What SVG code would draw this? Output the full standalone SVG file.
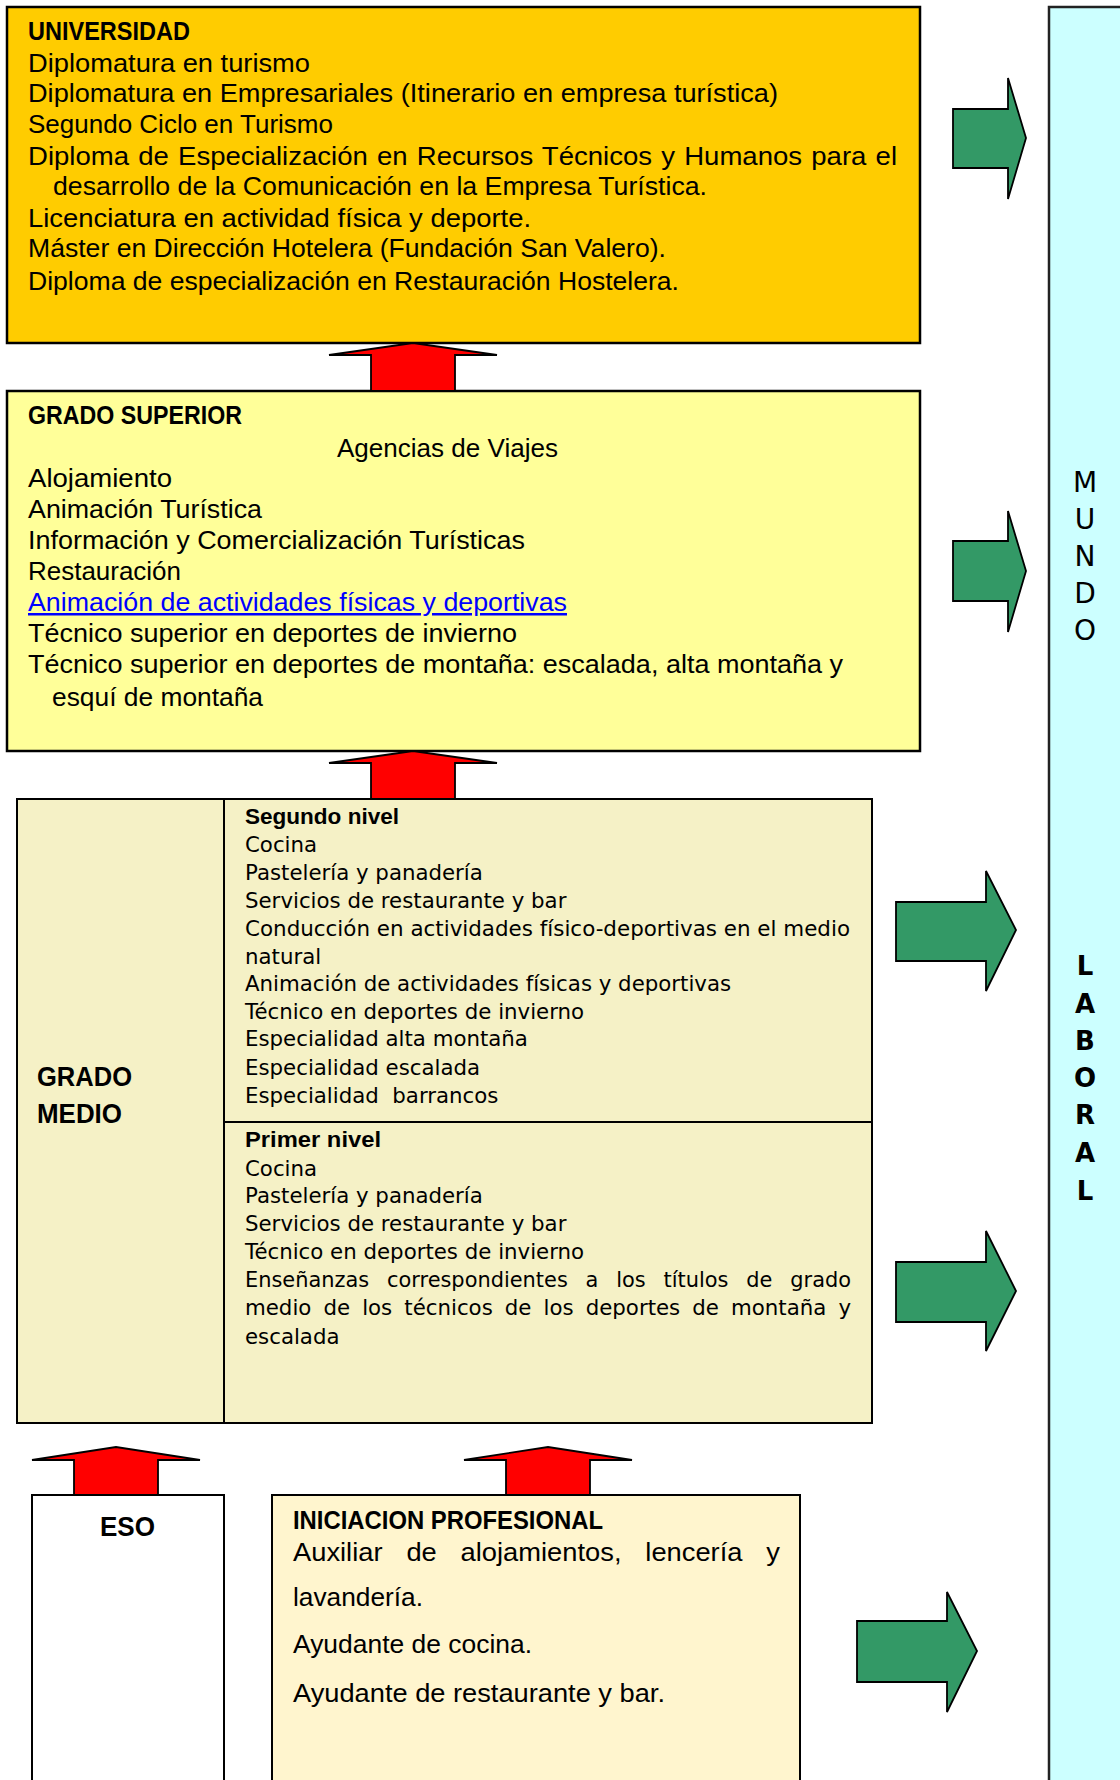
<svg xmlns="http://www.w3.org/2000/svg" width="1120" height="1780" viewBox="0 0 1120 1780">
<style>
.box{stroke:#000;stroke-width:2.5}
.t{font-family:"Liberation Sans",Arial,sans-serif;font-size:25px;fill:#000}
.b{font-weight:bold}
.v{font-family:"DejaVu Sans",Verdana,sans-serif;font-size:21.3px;fill:#000}
.vb{font-family:"Liberation Sans",Arial,sans-serif;font-size:22px;font-weight:bold;fill:#000}
.link{fill:#0000FF;text-decoration:underline}
.red{fill:#FF0000;stroke:#000;stroke-width:1.8;stroke-linejoin:miter}
.green{fill:#339966;stroke:#000;stroke-width:1.8}
.side{font-family:"DejaVu Sans",Verdana,sans-serif;font-size:28px;fill:#000;text-anchor:middle}
.sideb{font-family:"DejaVu Sans",Verdana,sans-serif;font-size:26px;font-weight:bold;fill:#000;text-anchor:middle}
</style>
<rect x="0" y="0" width="1120" height="1780" fill="#FFFFFF"/>

<g id="mundo-laboral">
<rect x="1049" y="7" width="110" height="1800" fill="#CCFFFF" stroke="#222" stroke-width="2.5"/>
<text class="side" x="1085" y="492">M</text>
<text class="side" x="1085" y="529">U</text>
<text class="side" x="1085" y="566">N</text>
<text class="side" x="1085" y="603">D</text>
<text class="side" x="1085" y="640">O</text>
<text class="sideb" x="1085" y="975">L</text>
<text class="sideb" x="1085" y="1013">A</text>
<text class="sideb" x="1085" y="1050">B</text>
<text class="sideb" x="1085" y="1087">O</text>
<text class="sideb" x="1085" y="1124">R</text>
<text class="sideb" x="1085" y="1162">A</text>
<text class="sideb" x="1085" y="1200">L</text>
</g>

<g id="universidad">
<rect class="box" x="7" y="7" width="913" height="336" fill="#FFCC00"/>
<text class="t b" x="28" y="40" textLength="162" lengthAdjust="spacingAndGlyphs">UNIVERSIDAD</text>
<text class="t" x="28" y="72" textLength="282" lengthAdjust="spacingAndGlyphs">Diplomatura en turismo</text>
<text class="t" x="28" y="102" textLength="750" lengthAdjust="spacingAndGlyphs">Diplomatura en Empresariales (Itinerario en empresa turística)</text>
<text class="t" x="28" y="133" textLength="305" lengthAdjust="spacingAndGlyphs">Segundo Ciclo en Turismo</text>
<text class="t" x="28" y="165" word-spacing="1.4" textLength="869" lengthAdjust="spacingAndGlyphs">Diploma de Especialización en Recursos Técnicos y Humanos para el</text>
<text class="t" x="53" y="195" textLength="654" lengthAdjust="spacingAndGlyphs">desarrollo de la Comunicación en la Empresa Turística.</text>
<text class="t" x="28" y="227" textLength="503" lengthAdjust="spacingAndGlyphs">Licenciatura en actividad física y deporte.</text>
<text class="t" x="28" y="257" textLength="638" lengthAdjust="spacingAndGlyphs">Máster en Dirección Hotelera (Fundación San Valero).</text>
<text class="t" x="28" y="290" textLength="651" lengthAdjust="spacingAndGlyphs">Diploma de especialización en Restauración Hostelera.</text>
</g>

<g id="grado-superior">
<rect class="box" x="7" y="391" width="913" height="360" fill="#FFFF99"/>
<text class="t b" x="28" y="424" textLength="214" lengthAdjust="spacingAndGlyphs">GRADO SUPERIOR</text>
<text class="t" x="337" y="457" textLength="221" lengthAdjust="spacingAndGlyphs">Agencias de Viajes</text>
<text class="t" x="28" y="487" textLength="144" lengthAdjust="spacingAndGlyphs">Alojamiento</text>
<text class="t" x="28" y="518" textLength="234" lengthAdjust="spacingAndGlyphs">Animación Turística</text>
<text class="t" x="28" y="549" textLength="497" lengthAdjust="spacingAndGlyphs">Información y Comercialización Turísticas</text>
<text class="t" x="28" y="580" textLength="153" lengthAdjust="spacingAndGlyphs">Restauración</text>
<text class="t link" x="28" y="611" textLength="539" lengthAdjust="spacingAndGlyphs">Animación de actividades físicas y deportivas</text>
<text class="t" x="28" y="642" textLength="489" lengthAdjust="spacingAndGlyphs">Técnico superior en deportes de invierno</text>
<text class="t" x="28" y="673" textLength="815" lengthAdjust="spacingAndGlyphs">Técnico superior en deportes de montaña: escalada, alta montaña y</text>
<text class="t" x="52" y="706" textLength="211" lengthAdjust="spacingAndGlyphs">esquí de montaña</text>
</g>

<g id="grado-medio">
<rect x="17" y="799" width="855" height="624" fill="#F5F1C6" stroke="#000" stroke-width="2"/>
<line x1="224" y1="799" x2="224" y2="1423" stroke="#000" stroke-width="2"/>
<line x1="224" y1="1122" x2="872" y2="1122" stroke="#000" stroke-width="2"/>
<text class="t b" style="font-size:27px" x="37" y="1086" textLength="95" lengthAdjust="spacingAndGlyphs">GRADO</text>
<text class="t b" style="font-size:27px" x="37" y="1123" textLength="85" lengthAdjust="spacingAndGlyphs">MEDIO</text>
</g>

<g id="segundo-nivel">
<text class="vb" x="245" y="824" textLength="154" lengthAdjust="spacingAndGlyphs">Segundo nivel</text>
<text class="v" x="245" y="852">Cocina</text>
<text class="v" x="245" y="880">Pastelería y panadería</text>
<text class="v" x="245" y="908">Servicios de restaurante y bar</text>
<text class="v" x="245" y="936" textLength="605" lengthAdjust="spacingAndGlyphs">Conducción en actividades físico-deportivas en el medio</text>
<text class="v" x="245" y="964">natural</text>
<text class="v" x="245" y="991">Animación de actividades físicas y deportivas</text>
<text class="v" x="245" y="1019">Técnico en deportes de invierno</text>
<text class="v" x="245" y="1046">Especialidad alta montaña</text>
<text class="v" x="245" y="1075">Especialidad escalada</text>
<text class="v" x="245" y="1103" xml:space="preserve">Especialidad  barrancos</text>
</g>

<g id="primer-nivel">
<text class="vb" x="245" y="1147" textLength="136" lengthAdjust="spacingAndGlyphs">Primer nivel</text>
<text class="v" x="245" y="1176">Cocina</text>
<text class="v" x="245" y="1203">Pastelería y panadería</text>
<text class="v" x="245" y="1231">Servicios de restaurante y bar</text>
<text class="v" x="245" y="1259">Técnico en deportes de invierno</text>
<text class="v" x="245" y="1287" word-spacing="11.4" textLength="606" lengthAdjust="spacingAndGlyphs">Enseñanzas correspondientes a los títulos de grado</text>
<text class="v" x="245" y="1315" word-spacing="5.3" textLength="606" lengthAdjust="spacingAndGlyphs">medio de los técnicos de los deportes de montaña y</text>
<text class="v" x="245" y="1344">escalada</text>
</g>

<g id="eso">
<rect x="32" y="1495" width="192" height="320" fill="#FFFFFF" stroke="#000" stroke-width="2"/>
<text class="t b" x="100" y="1536" style="font-size:27px" textLength="55" lengthAdjust="spacingAndGlyphs">ESO</text>
</g>

<g id="iniciacion-profesional">
<rect x="272" y="1495" width="528" height="320" fill="#FFF5CE" stroke="#000" stroke-width="2"/>
<text class="t b" x="293" y="1529" textLength="310" lengthAdjust="spacingAndGlyphs">INICIACION PROFESIONAL</text>
<text class="t" x="293" y="1561" word-spacing="14.9" textLength="487" lengthAdjust="spacingAndGlyphs">Auxiliar de alojamientos, lencería y</text>
<text class="t" x="293" y="1606" textLength="130" lengthAdjust="spacingAndGlyphs">lavandería.</text>
<text class="t" x="293" y="1653" textLength="239" lengthAdjust="spacingAndGlyphs">Ayudante de cocina.</text>
<text class="t" x="293" y="1702" textLength="372" lengthAdjust="spacingAndGlyphs">Ayudante de restaurante y bar.</text>
</g>

<g id="connectors">
<polygon class="red" points="371,391 371,355 329,355 413,343 497,355 455,355 455,391"/>
<polygon class="red" points="371,799 371,763 329,763 413,751 497,763 455,763 455,799"/>
<polygon class="red" points="74,1495 74,1460 32,1460 116,1447 200,1460 158,1460 158,1495"/>
<polygon class="red" points="506,1495 506,1460 464,1460 548,1447 632,1460 590,1460 590,1495"/>
<polygon class="green" points="953,109 1008,109 1008,78 1026,138 1008,199 1008,168 953,168"/>
<polygon class="green" points="953,541 1008,541 1008,511 1026,571 1008,632 1008,601 953,601"/>
<polygon class="green" points="896,902 986,902 986,871 1016,930 986,991 986,961 896,961"/>
<polygon class="green" points="896,1262 986,1262 986,1231 1016,1291 986,1351 986,1322 896,1322"/>
<polygon class="green" points="857,1621 947,1621 947,1592 977,1651 947,1712 947,1682 857,1682"/>
</g>
</svg>
